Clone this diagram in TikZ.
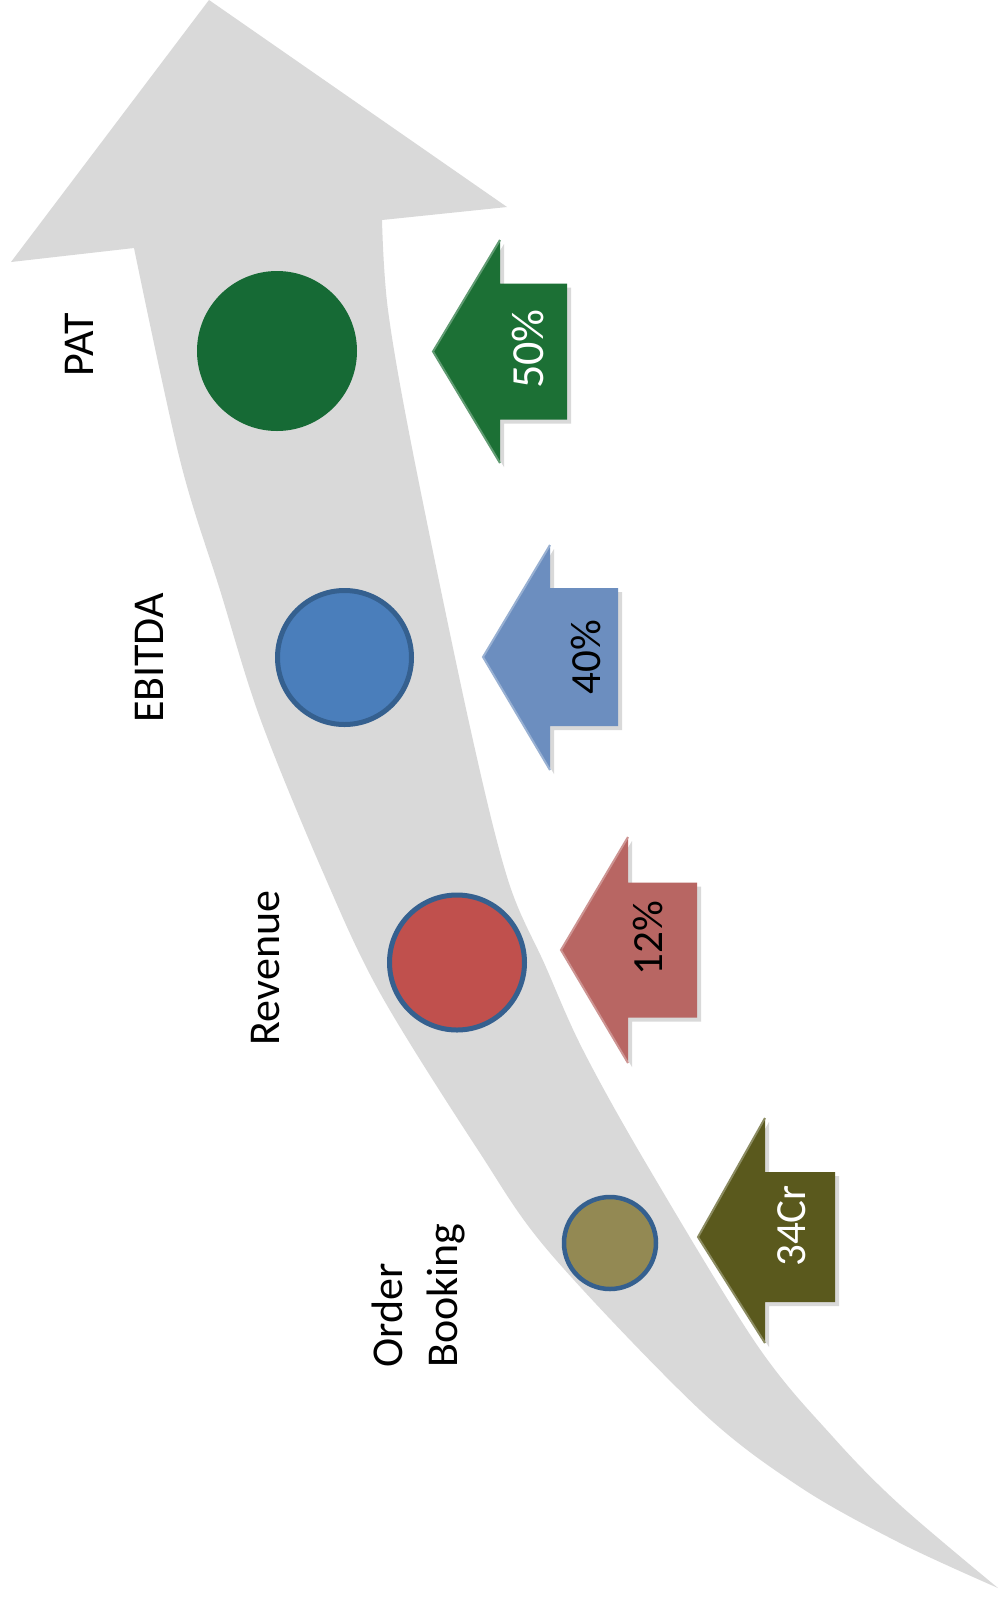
\documentclass[tikz,border=0pt]{standalone}
\usepackage{fontspec}
\setmainfont{Carlito}
\definecolor{flowgray}{HTML}{D9D9D9}
\definecolor{patgreen}{HTML}{166A35}
\definecolor{arrgreen}{HTML}{1C7035}
\definecolor{ebblue}{HTML}{4A7EBB}
\definecolor{arrblue}{HTML}{6C8EBF}
\definecolor{revred}{HTML}{C0504D}
\definecolor{arrred}{HTML}{B86663}
\definecolor{obolive}{HTML}{938953}
\definecolor{arrolive}{HTML}{5A591D}
\definecolor{ringblue}{HTML}{35608F}
\newcommand{\myblockarrow}[8]{%
  % #1 colour, #2 tip x, #3 centre y, #4 head x, #5 head top y, #6 head bottom y, #7 shaft half height, #8 right x
  \fill[black!15] (#2+4,#3+4) -- (#4+4,#5+4) -- (#4+4,#3-#7+4) -- (#8+4,#3-#7+4) -- (#8+4,#3+#7+4) -- (#4+4,#3+#7+4) -- (#4+4,#6+4) -- cycle;
  \fill[#1] (#2,#3) -- (#4,#5) -- (#4,#3-#7) -- (#8,#3-#7) -- (#8,#3+#7) -- (#4,#3+#7) -- (#4,#6) -- cycle;
  \draw[#1!70!white, line width=1pt] (#4,#5) -- (#2,#3) -- (#4,#6);
}
\begin{document}
\begin{tikzpicture}[x=0.5pt,y=-0.5pt,
  lbl/.style={rotate=90, anchor=base, inner sep=0, font=\fontsize{22}{27.5}\selectfont},
  arrtxt/.style={rotate=90, anchor=base, inner sep=0, font=\fontsize{21.5}{26}\selectfont},
  dot/.style={circle, inner sep=0}]
\useasboundingbox (0,0) rectangle (998,1603);
\fill[white] (0,0) rectangle (998,1603);
% big curved arrow
\fill[flowgray] (209,0) -- (507,207) -- (382,220)
  -- plot[smooth, tension=0.55] coordinates {(382,220) (388,310) (413,453) (470,727) (508,880) (545,965) (583,1050) (647,1165) (757,1345) (833,1437) (900,1505) (998,1588)}
  -- plot[smooth, tension=0.55] coordinates {(998,1588) (900,1543) (800,1487) (700,1410) (550,1253) (478,1150) (380,993) (322,870) (260,718) (220,590) (180,460) (134,248)}
  -- (11,262) -- cycle;
% circles
\node[dot, fill=patgreen, minimum size=80pt] (pat) at (277,351) {};
\node[dot, fill=ebblue, draw=ringblue, line width=2.5pt, minimum size=67pt] (ebitda) at (344.5,657.5) {};
\node[dot, fill=revred, draw=ringblue, line width=2.5pt, minimum size=67.5pt] (rev) at (457,962.5) {};
\node[dot, fill=obolive, draw=ringblue, line width=2.25pt, minimum size=46pt] (ob) at (610,1243) {};
% block arrows
\myblockarrow{arrgreen}{433}{351.5}{500}{240}{463}{68}{567}
\myblockarrow{arrblue}{483}{657}{550}{545}{770}{69}{618}
\myblockarrow{arrred}{561}{950}{628}{837}{1063}{67.5}{697}
\myblockarrow{arrolive}{698}{1237}{765}{1118}{1343}{65}{835}
% arrow texts
\node[arrtxt, text=white, font=\fontsize{23}{27}\selectfont] (t50) at (543,349) {50\%};
\node[arrtxt, text=black] (t40) at (600,657) {40\%};
\node[arrtxt, text=black] (t12) at (662,938) {12\%};
\node[arrtxt, text=white] (t34) at (805,1226) {34Cr};
% labels
\node[lbl] (lpat) at (93,345) {PAT};
\node[lbl] (lebitda) at (163,658) {EBITDA};
\node[lbl] (lrev) at (279,968) {Revenue};
\node[lbl, anchor=base west] (lorder) at (402,1368) {Order};
\node[lbl, anchor=base west] (lbook) at (457,1368) {Booking};
\end{tikzpicture}
\end{document}
